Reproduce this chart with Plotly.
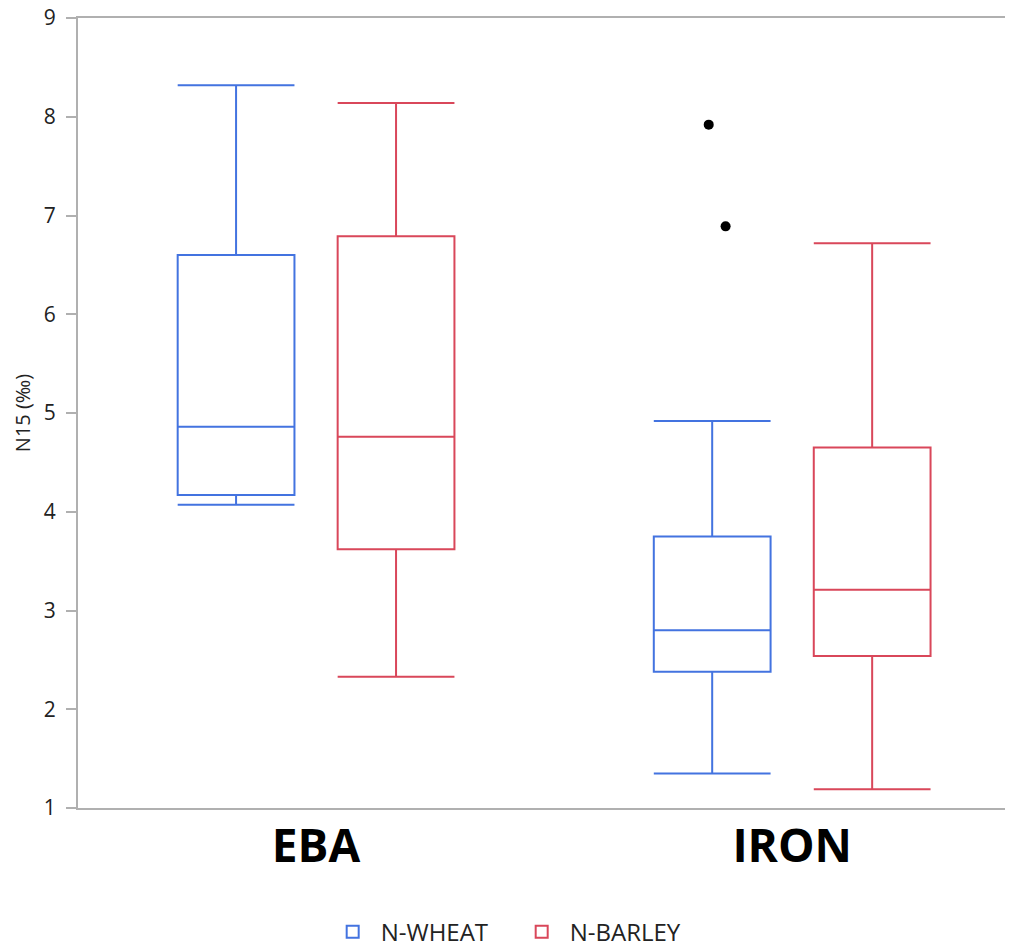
import plotly.graph_objects as go

categories = ["EBA", "IRON"]

wheat_lowerfence = [4.07, 1.35]
wheat_q1 = [4.17, 2.38]
wheat_median = [4.86, 2.80]
wheat_q3 = [6.60, 3.75]
wheat_upperfence = [8.32, 4.92]

wheat_outlier_cat = ["IRON", "IRON"]
wheat_outlier_vals = [7.92, 6.89]

barley_lowerfence = [2.33, 1.19]
barley_q1 = [3.62, 2.54]
barley_median = [4.76, 3.21]
barley_q3 = [6.79, 4.65]
barley_upperfence = [8.14, 6.72]

BLUE = "#4373e0"
RED = "#d9475a"
FONT = "Open Sans"

fig = go.Figure()
fig.add_trace(go.Box(
    name="N-WHEAT", x=categories, offsetgroup="wheat",
    q1=wheat_q1, median=wheat_median, q3=wheat_q3,
    lowerfence=wheat_lowerfence, upperfence=wheat_upperfence,
    boxpoints=False,
    line=dict(color=BLUE, width=2), fillcolor="rgba(0,0,0,0)",
    whiskerwidth=1,
))
# outlier points of the wheat series, aligned to the wheat box slot
fig.add_trace(go.Box(
    name="N-WHEAT", x=wheat_outlier_cat, y=wheat_outlier_vals, offsetgroup="wheat",
    boxpoints="all", jitter=0.25, pointpos=0.1, showlegend=False,
    marker=dict(color="black", size=10),
    line=dict(color="rgba(0,0,0,0)", width=0), fillcolor="rgba(0,0,0,0)",
    whiskerwidth=0, hoveron="points",
))
fig.add_trace(go.Box(
    name="N-BARLEY", x=categories, offsetgroup="barley",
    q1=barley_q1, median=barley_median, q3=barley_q3,
    lowerfence=barley_lowerfence, upperfence=barley_upperfence,
    boxpoints=False,
    line=dict(color=RED, width=2), fillcolor="rgba(0,0,0,0)",
    whiskerwidth=1,
))

fig.update_layout(
    width=1020, height=949,
    margin=dict(l=78, r=15, t=18, b=141, autoexpand=False),
    paper_bgcolor="white", plot_bgcolor="white",
    boxmode="group", boxgap=0.328, boxgroupgap=0.27,
    font=dict(family=FONT, color="#222"),
    showlegend=True,
    legend=dict(orientation="h", x=0.47, xanchor="center", y=-0.157, yanchor="middle",
                itemwidth=46, entrywidth=128, entrywidthmode="pixels",
                font=dict(size=24, family=FONT, color="#222")),
    xaxis=dict(type="category", range=[-0.5, 1.447], showline=True, mirror=True,
               linecolor="#b0b0b0", linewidth=2, ticks="", showgrid=False,
               ticklabelstandoff=-3,
               tickfont=dict(size=46, family=FONT, color="black", weight="bold")),
    yaxis=dict(range=[1, 9], dtick=1, showline=True, linecolor="#b0b0b0", linewidth=2,
               ticks="outside", ticklen=10, tickcolor="#b0b0b0", tickwidth=2,
               showgrid=False, zeroline=False, ticklabelstandoff=6,
               tickfont=dict(size=21, family=FONT, color="#222"),
               title=dict(text="N15 (‰)", standoff=8,
                          font=dict(size=20, family=FONT, color="#222"))),
)

fig.write_html("out.html")
